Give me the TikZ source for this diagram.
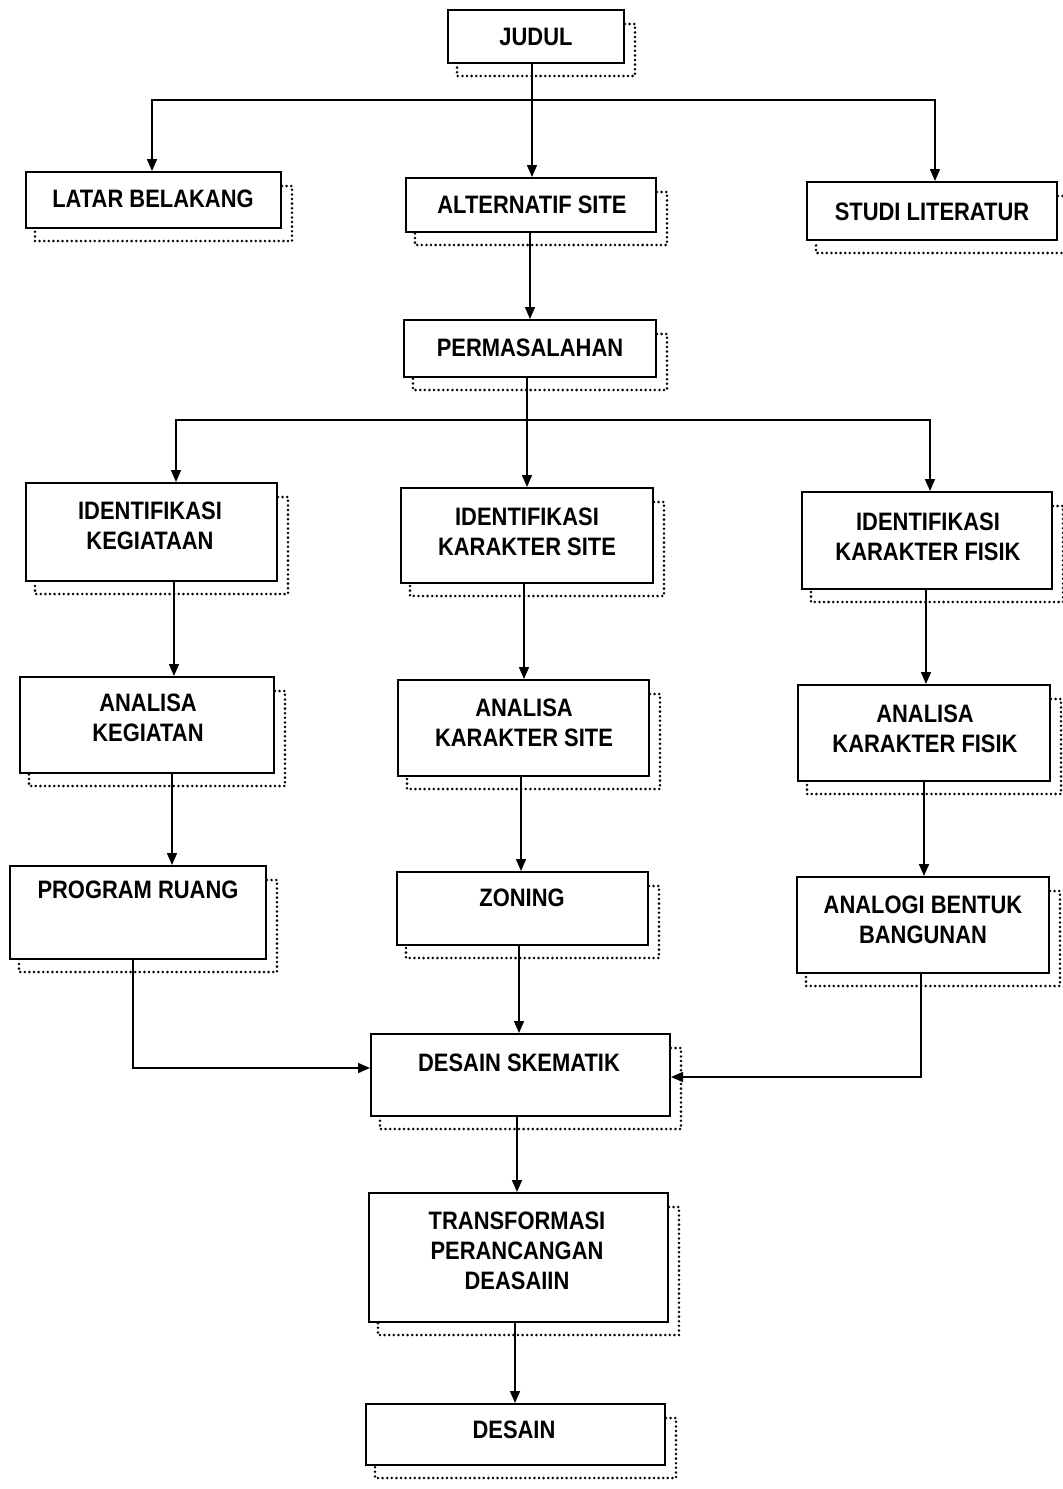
\documentclass[tikz,border=0pt]{standalone}
\usepackage{fontspec}
\newfontfamily\boxfont{Liberation Sans}[FakeStretch=0.87]
\usetikzlibrary{arrows.meta,calc,fit}

\tikzset{
  x=0.5pt, y=-0.5pt,
  box/.style={draw, line width=1pt, inner sep=0pt, fill=white},
  lbl/.style={font=\boxfont\bfseries\fontsize{12.6}{15}\selectfont, align=center, inner sep=0pt},
  conn/.style={line width=0.8pt},
  arr/.style={conn, -{Triangle[length=6pt,width=5pt]}},
  shadowline/.style={line width=1.4pt, dash pattern=on 0pt off 2.3pt, line cap=round}
}

% dotted drop shadow round the right and lower edge of a box
\newcommand\boxshadow[1]{%
  \draw[shadowline] ($(#1.north east)+(0,15)$) -- ++(10,0) |- ($(#1.south west)+(10,12)$) -- ++(0,-12);}

\begin{document}
\begin{tikzpicture}
\useasboundingbox (0,0) rectangle (1062,1489);
\fill[white] (0,0) rectangle (1062,1489);

% boxes
\node[box, fit={(448,10) (624,63)}] (judul) {};
\node[box, fit={(26,172) (281,228)}] (latar) {};
\node[box, fit={(406,178) (656,232)}] (alt) {};
\node[box, fit={(807,182) (1057,240)}] (studi) {};
\node[box, fit={(404,320) (656,377)}] (perm) {};
\node[box, fit={(26,483) (277,581)}] (idk) {};
\node[box, fit={(401,488) (653,583)}] (ids) {};
\node[box, fit={(802,492) (1052,589)}] (idf) {};
\node[box, fit={(20,677) (274,773)}] (ank) {};
\node[box, fit={(398,680) (649,776)}] (ans) {};
\node[box, fit={(798,685) (1050,781)}] (anf) {};
\node[box, fit={(10,866) (266,959)}] (prog) {};
\node[box, fit={(397,872) (648,945)}] (zon) {};
\node[box, fit={(797,877) (1049,973)}] (ana) {};
\node[box, fit={(371,1034) (670,1116)}] (des) {};
\node[box, fit={(369,1193) (668,1322)}] (tra) {};
\node[box, fit={(366,1404) (665,1465)}] (dsn) {};

\foreach \b in {judul,latar,alt,studi,perm,idk,ids,idf,ank,ans,anf,prog,zon,ana,des,tra,dsn}
  {\boxshadow{\b}}

% labels
\node[lbl] (judul-t) at (536,37) {JUDUL};
\node[lbl] (latar-t) at (153,199) {LATAR BELAKANG};
\node[lbl] (alt-t) at (532,205) {ALTERNATIF SITE};
\node[lbl] (studi-t) at (932,212) {STUDI LITERATUR};
\node[lbl] (perm-t) at (530,348) {PERMASALAHAN};
\node[lbl] (idk-t) at (150,526) {IDENTIFIKASI\\KEGIATAAN};
\node[lbl] (ids-t) at (527,532) {IDENTIFIKASI\\KARAKTER SITE};
\node[lbl] (idf-t) at (928,537) {IDENTIFIKASI\\KARAKTER FISIK};
\node[lbl] (ank-t) at (148,718) {ANALISA\\KEGIATAN};
\node[lbl] (ans-t) at (524,723) {ANALISA\\KARAKTER SITE};
\node[lbl] (anf-t) at (925,729) {ANALISA\\KARAKTER FISIK};
\node[lbl] (prog-t) at (138,890) {PROGRAM RUANG};
\node[lbl] (zon-t) at (522,898) {ZONING};
\node[lbl] (ana-t) at (923,920) {ANALOGI BENTUK\\BANGUNAN};
\node[lbl] (des-t) at (519,1063) {DESAIN SKEMATIK};
\node[lbl] (tra-t) at (517,1251) {TRANSFORMASI\\PERANCANGAN\\DEASAIIN};
\node[lbl] (dsn-t) at (514,1430) {DESAIN};

% junctions and connector columns
\coordinate (h1) at (532,100);
\coordinate (h2) at (527,420);
\coordinate (c1) at (152,0);
\coordinate (c2) at (935,0);
\coordinate (c3) at (530,0);
\coordinate (c4) at (176,0);
\coordinate (c5) at (930,0);
\coordinate (c6) at (174,0);
\coordinate (c7) at (524,0);
\coordinate (c8) at (926,0);
\coordinate (c9) at (172,0);
\coordinate (c10) at (521,0);
\coordinate (c11) at (924,0);
\coordinate (c12) at (519,0);
\coordinate (c13) at (517,0);
\coordinate (c14) at (515,0);
\coordinate (m1) at (133,1068);
\coordinate (m2) at (921,1077);

% connectors
\draw[arr] (judul.south -| h1) -- (alt.north -| h1);
\draw[arr] (h1) -| (latar.north -| c1);
\draw[arr] (h1) -| (studi.north -| c2);
\draw[arr] (alt.south -| c3) -- (perm.north -| c3);
\draw[conn] (perm.south -| h2) -- (h2);
\draw[arr] (h2) -| (idk.north -| c4);
\draw[arr] (h2) -- (ids.north -| h2);
\draw[arr] (h2) -| (idf.north -| c5);
\draw[arr] (idk.south -| c6) -- (ank.north -| c6);
\draw[arr] (ids.south -| c7) -- (ans.north -| c7);
\draw[arr] (idf.south -| c8) -- (anf.north -| c8);
\draw[arr] (ank.south -| c9) -- (prog.north -| c9);
\draw[arr] (ans.south -| c10) -- (zon.north -| c10);
\draw[arr] (anf.south -| c11) -- (ana.north -| c11);
\draw[arr] (prog.south -| m1) -- (m1) -- (des.west |- m1);
\draw[arr] (zon.south -| c12) -- (des.north -| c12);
\draw[arr] (ana.south -| m2) -- (m2) -- (des.east |- m2);
\draw[arr] (des.south -| c13) -- (tra.north -| c13);
\draw[arr] (tra.south -| c14) -- (dsn.north -| c14);
\end{tikzpicture}
\end{document}
